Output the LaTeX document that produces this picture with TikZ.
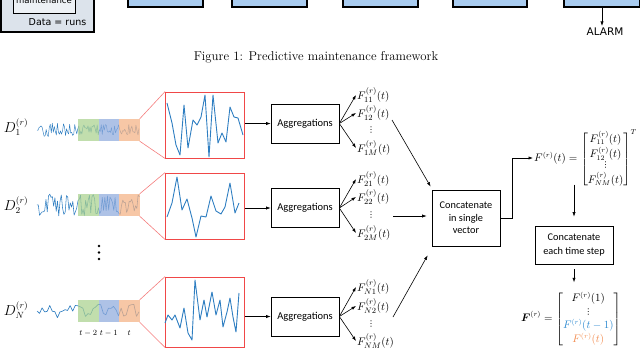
\documentclass[tikz,border=0pt]{standalone}
\usepackage{amsmath}
\usepackage{fontspec}
\newfontfamily\carl{Carlito}
\newfontfamily\djv{DejaVu Sans}
\usetikzlibrary{arrows.meta,calc}
\newcommand\myvd{\text{\djv\fontsize{8}{8}\selectfont ⋮}}
\definecolor{serblue}{HTML}{2E7EC1}
\definecolor{zred}{HTML}{F04848}
\definecolor{zredl}{HTML}{F47C7C}
\definecolor{gbox}{HTML}{A9D18E}
\definecolor{bbox}{HTML}{8FAADC}
\definecolor{obox}{HTML}{F4B183}
\definecolor{topblue}{HTML}{A9CCF0}
\definecolor{topgray}{HTML}{DCE3EB}
\definecolor{fblue}{HTML}{2E8AD0}
\definecolor{forange}{HTML}{F28C50}
\begin{document}
\begin{tikzpicture}[x=1pt,y=-1pt,
  arr/.style={-{Latex[length=4.5pt,width=3.2pt]}, line width=0.6pt},
  topbox/.style={draw, line width=1.1pt, fill=topblue, minimum height=30pt, inner sep=0pt},
  cbox/.style={draw=none, minimum width=20.5pt, minimum height=22pt, inner sep=0pt, fill opacity=0.72},
  zbox/.style={draw=zred, line width=0.9pt, minimum width=79pt, inner sep=0pt},
  aggbox/.style={draw, line width=0.7pt, minimum width=68pt, minimum height=39pt, inner sep=0pt, font=\carl\fontsize{10.5}{12}\selectfont},
  flab/.style={anchor=west, inner sep=1pt, font=\fontsize{11}{12}\selectfont},
  fdots/.style={inner sep=0pt, font=\djv\fontsize{8}{8}\selectfont},
  dlab/.style={inner sep=1pt, font=\fontsize{13.5}{14}\selectfont},
  tlab/.style={inner sep=1pt, font=\fontsize{8}{9}\selectfont},
  zline/.style={zredl, line width=0.6pt},
  zser/.style={serblue, line width=0.9pt, line join=round}
]
\useasboundingbox (0,0) rectangle (640,349);
\clip (0,0) rectangle (640,349);

% ---------- top: end of previous figure ----------
\node[draw, line width=1.6pt, fill=topgray, minimum width=93pt, minimum height=62pt, inner sep=0pt] (lb) at (47.5,1) {};
\node[draw, line width=0.9pt, fill=topgray!50!white, minimum width=62pt, minimum height=33pt, inner sep=0pt] (ib) at (44,-3.5) {};
\node[anchor=base, inner sep=0pt, font=\djv\fontsize{8.5}{9}\selectfont] (mt) at (44,3) {maintenance};
\node[inner sep=0pt, font=\djv\fontsize{9.5}{10}\selectfont] (dr) at (57.5,22.5) {Data = runs};
\node[topbox, minimum width=75pt] (tb1) at (165.5,-8) {};
\node[topbox, minimum width=75pt] (tb2) at (269.5,-8) {};
\node[topbox, minimum width=75pt] (tb3) at (380.5,-8) {};
\node[topbox, minimum width=74pt] (tb4) at (490,-8) {};
\node[topbox, minimum width=76pt] (tb5) at (602,-8) {};
\node[inner sep=0pt, font=\djv\fontsize{10.5}{11}\selectfont] (al) at (605,32) {ALARM};
\draw[arr] (tb5.south) -- ($(tb5.south |- al.north)+(0,-2)$);

\node[inner sep=0pt, font=\fontsize{12.8}{15}\selectfont] (cap) at (316,57) {Figure 1: Predictive maintenance framework};

% ---------- time series ----------
\pgfmathsetseed{11}
\draw[serblue, line width=0.45pt, line join=round] (37,130)
  \foreach \i in {1,...,40}{ -- ({37+\i*1.02},{130+8*rand}) }
  \foreach \i in {41,...,100}{ -- ({37+\i*1.02},{130+5.5*rand}) };
\draw[serblue, line width=0.55pt, line join=round] (37,205)
  \foreach \i in {1,...,80}{ -- ({37+\i*1.28},{205+11*rand}) };
\draw[serblue, line width=0.65pt, line join=round] (37,311)
  \foreach \i in {1,...,40}{ -- ({37+\i*2.55},{311+7*rand}) };

% colored windows
\node[cbox, fill=gbox] (g1) at (88.25,130) {};
\node[cbox, fill=bbox] (b1) at (108.75,130) {};
\node[cbox, fill=obox] (o1) at (129.25,130) {};
\node[cbox, fill=gbox] (g2) at (88.25,205) {};
\node[cbox, fill=bbox] (b2) at (108.75,205) {};
\node[cbox, fill=obox] (o2) at (129.25,205) {};
\node[cbox, fill=gbox] (gN) at (88.25,311) {};
\node[cbox, fill=bbox] (bN) at (108.75,311) {};
\node[cbox, fill=obox] (oN) at (129.25,311) {};

\node[tlab] (t2) at (gN.south |- 0,333) {$t-2$};
\node[tlab] (t1) at (bN.south |- 0,333) {$t-1$};
\node[tlab] (t0) at (oN.south |- 0,333) {$t$};

% labels D
\node[dlab] (d1) at (16,127) {$D_1^{(r)}$};
\node[dlab] (d2) at (16,205) {$D_2^{(r)}$};
\node[dlab] (dN) at (16,310) {$D_N^{(r)}$};

% vertical dots
\fill (99,246) circle (1.4);
\fill (99,252.5) circle (1.4);
\fill (99,259) circle (1.4);

% ---------- zoom boxes ----------
\node[zbox, minimum height=66pt] (z1) at (205,125) {};
\node[zbox, minimum height=66pt] (z2) at (205,206) {};
\node[zbox, minimum height=70pt] (zN) at (205,312) {};
\draw[zline] (o1.north east) -- (z1.north west);
\draw[zline] (o1.south east) -- (z1.south west);
\draw[zline] (o2.north east) -- (z2.north west);
\draw[zline] (o2.south east) -- (z2.south west);
\draw[zline] (oN.north east) -- (zN.north west);
\draw[zline] (oN.south east) -- (zN.south west);

\draw[zser] (167,103) -- (172,123) -- (176,145) -- (180,155) -- (184,105) -- (188,148) -- (193,120) -- (197,125) -- (201,117) -- (205,95) -- (209,157) -- (213,95) -- (218,143) -- (222,133) -- (226,142) -- (230,107) -- (234,117) -- (238,118) -- (243,135);
\draw[zser] (167,217) -- (172,203) -- (177,177) -- (182,210) -- (187,199) -- (192,218) -- (196,237) -- (201,216) -- (206,217) -- (211,196) -- (216,211) -- (221,214) -- (225,207) -- (230,183) -- (235,213) -- (239,203);
\draw[zser] (165,323) -- (168,315) -- (172,320) -- (175,315) -- (180,328) -- (184,308) -- (188,333) -- (192,340) -- (195,280) -- (200,320) -- (204,300) -- (207,317) -- (212,292) -- (216,315) -- (220,300) -- (223,327) -- (227,312) -- (230,298) -- (233,317) -- (236,332) -- (239,293);

% ---------- aggregations ----------
\node[aggbox] (a1) at (305,123.5) {Aggregations};
\node[aggbox] (a2) at (305,208) {Aggregations};
\node[aggbox] (aN) at (305,316.5) {Aggregations};
\draw[arr] (z1.east |- a1.west) -- (a1.west);
\draw[arr] (z2.east |- a2.west) -- (a2.west);
\draw[arr] (zN.east |- aN.west) -- (aN.west);

% feature labels
\node[flab] (f11) at (356,95) {$F_{11}^{(r)}(t)$};
\node[flab] (f12) at (356,113) {$F_{12}^{(r)}(t)$};
\node[fdots] (f1d) at (371,130) {⋮};
\node[flab] (f1m) at (356,148) {$F_{1M}^{(r)}(t)$};
\node[flab] (f21) at (356,179) {$F_{21}^{(r)}(t)$};
\node[flab] (f22) at (356,197) {$F_{22}^{(r)}(t)$};
\node[fdots] (f2d) at (371,215) {⋮};
\node[flab] (f2m) at (356,233) {$F_{2M}^{(r)}(t)$};
\node[flab] (fN1) at (356,287) {$F_{N1}^{(r)}(t)$};
\node[flab] (fN2) at (356,306) {$F_{N2}^{(r)}(t)$};
\node[fdots] (fNd) at (371,324) {⋮};
\node[flab] (fNm) at (356,341) {$F_{NM}^{(r)}(t)$};
\foreach \a/\f in {a1/f11,a1/f12,a1/f1m,a2/f21,a2/f22,a2/f2m,aN/fN1,aN/fN2,aN/fNm}
  \draw[arr] (\a.east) -- (\f.west);

% ---------- concatenation ----------
\node[draw, line width=0.7pt, minimum width=68pt, minimum height=56pt, inner sep=0pt, align=center, font=\carl\fontsize{10.3}{12.5}\selectfont] (c) at (466,218) {Concatenate\\in single\\vector};
\coordinate (s1) at (392,120);
\coordinate (s2) at (393,216);
\coordinate (sN) at (393,317);
\draw[arr] (s1) -- ($(c.north west)+(-1,-3)$);
\draw[arr] (s2) -- ($(s2 -| c.west)+(-5,0)$);
\draw[arr] (sN) -- ($(c.south west)+(-4,9)$);

\node[anchor=west, inner sep=1pt, font=\fontsize{10.5}{12}\selectfont] (m) at (533,158)
  {$F^{(r)}(t)=\begin{bmatrix}F_{11}^{(r)}(t)\\[1pt] F_{12}^{(r)}(t)\\[-2pt] \myvd\\[1pt] F_{NM}^{(r)}(t)\end{bmatrix}^{T}$};
\draw[arr] (c.east) -- ++(12,0) -- ++(0,-60) -- (m.west);

\node[draw, line width=0.7pt, minimum width=78pt, minimum height=38pt, inner sep=0pt, align=center, font=\carl\fontsize{10.3}{13.5}\selectfont] (e) at (574,245) {Concatenate\\each time step};
\draw[arr] ($(e.north)+(0,-41)$) -- ($(e.north)+(0,-9)$);

\node[inner sep=1pt, font=\fontsize{10.5}{12}\selectfont] (bm) at (571,319)
  {$\boldsymbol{F}^{(r)}=\begin{bmatrix}F^{(r)}(1)\\[1pt] \myvd\\[1pt] \textcolor{fblue}{F^{(r)}(t-1)}\\[1pt] \textcolor{forange}{F^{(r)}(t)}\end{bmatrix}$};
\draw[arr] ($(e.south)+(0,5)$) -- ($(e.south)+(0,18)$);
\end{tikzpicture}
\end{document}
